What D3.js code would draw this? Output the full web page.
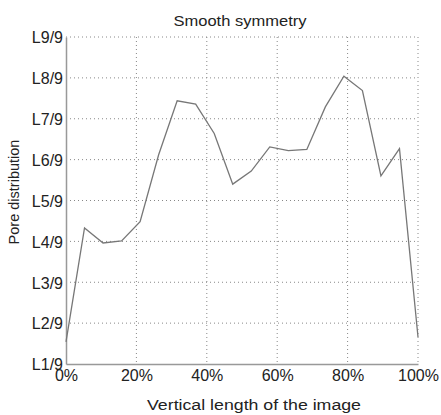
<!DOCTYPE html>
<html>
<head>
<meta charset="utf-8">
<script src="https://cdn.jsdelivr.net/npm/d3@7"></script>
<style>
body { margin: 0; background: #fff; }
text { font-family: "Liberation Sans", Arial, sans-serif; fill: #222; }
</style>
</head>
<body>
<svg width="441" height="415"></svg>
<script>
// positions along the image (%) and pore level (1..9)
var xPos = [0, 5.26, 10.53, 15.79, 21.05, 26.32, 31.58, 36.84, 42.11, 47.37,
            52.63, 57.89, 63.16, 68.42, 73.68, 78.95, 84.21, 89.47, 94.74, 100];
var level = [1.54, 4.33, 3.96, 4.01, 4.48, 6.12, 7.44, 7.36, 6.64, 5.40,
             5.72, 6.31, 6.22, 6.25, 7.29, 8.04, 7.69, 5.60, 6.27, 1.66];
var xTicks = [0, 20, 40, 60, 80, 100];
var yTicks = [1, 2, 3, 4, 5, 6, 7, 8, 9];

var svg = d3.select('svg');
var plotLeft = 66, plotRight = 418, plotTop = 37, plotBottom = 364;

var x = d3.scaleLinear().domain([0, 100]).range([plotLeft, plotRight]);
var y = d3.scaleLinear().domain([1, 9]).range([plotBottom, plotTop]);

// dotted grid
svg.append('g')
    .selectAll('line')
    .data(yTicks.slice(1))
    .enter()
    .append('line')
    .attr('x1', plotLeft).attr('x2', plotRight)
    .attr('y1', function(d){ return y(d); })
    .attr('y2', function(d){ return y(d); })
    .attr('stroke', '#888')
    .attr('stroke-width', 1)
    .attr('stroke-dasharray', '1,3');

svg.append('g')
    .selectAll('line')
    .data(xTicks.slice(1))
    .enter()
    .append('line')
    .attr('y1', plotTop).attr('y2', plotBottom)
    .attr('x1', function(d){ return x(d); })
    .attr('x2', function(d){ return x(d); })
    .attr('stroke', '#888')
    .attr('stroke-width', 1)
    .attr('stroke-dasharray', '1,3');

// axes
var xAxis = svg.append('g')
    .attr('transform', 'translate(0,' + plotBottom + ')')
    .call(d3.axisBottom(x).tickValues(xTicks).tickSize(0).tickPadding(6)
        .tickFormat(function(d){ return d + '%'; }));

var yAxis = svg.append('g')
    .attr('transform', 'translate(' + plotLeft + ',0)')
    .call(d3.axisLeft(y).tickValues(yTicks).tickSize(0).tickPadding(3)
        .tickFormat(function(d){ return 'L' + d + '/9'; }));

[xAxis, yAxis].forEach(function(a){
    a.select('.domain').attr('stroke', '#999').attr('stroke-width', 1.5);
    a.selectAll('text')
        .style('font-size', '16px')
        .style('font-family', '"Liberation Sans", Arial, sans-serif')
        .attr('fill', '#222');
});
yAxis.selectAll('text').attr('dy', '0.36em');

// line
var lineFunction = d3.line()
    .x(function(d, i){ return x(xPos[i]); })
    .y(function(d){ return y(d); });

svg.append('path')
    .datum(level)
    .attr('d', lineFunction)
    .attr('fill', 'none')
    .attr('stroke', '#777')
    .attr('stroke-width', 1.3);

// titles
svg.append('text')
    .attr('x', 240).attr('y', 26)
    .attr('text-anchor', 'middle')
    .attr('textLength', 133)
    .attr('lengthAdjust', 'spacingAndGlyphs')
    .style('font-size', '15.5px')
    .text('Smooth symmetry');

svg.append('text')
    .attr('x', 254).attr('y', 410)
    .attr('text-anchor', 'middle')
    .attr('textLength', 214)
    .attr('lengthAdjust', 'spacingAndGlyphs')
    .style('font-size', '15.5px')
    .text('Vertical length of the image');

svg.append('text')
    .attr('transform', 'translate(19,192) rotate(-90)')
    .attr('text-anchor', 'middle')
    .style('font-size', '14.5px')
    .text('Pore distribution');
</script>
</body>
</html>
